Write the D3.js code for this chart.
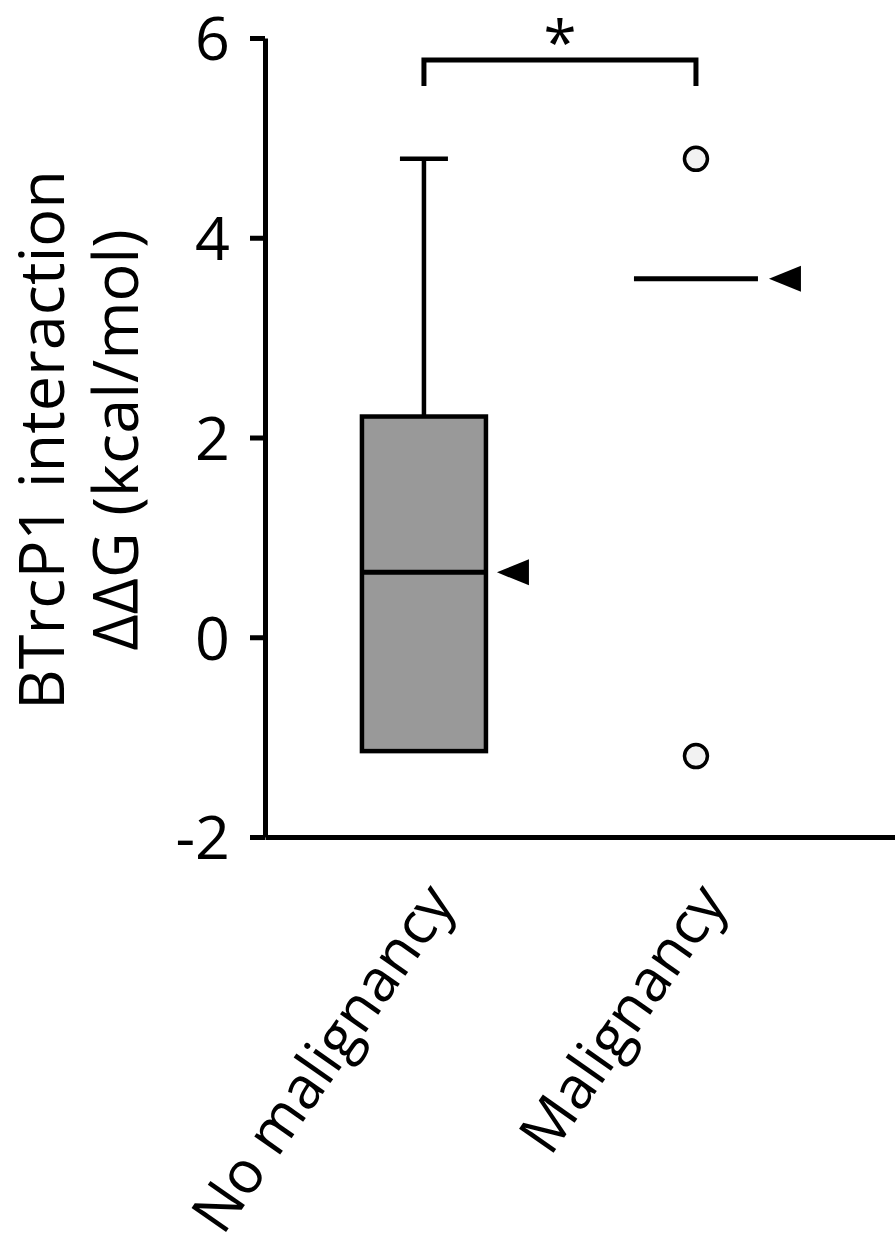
<!DOCTYPE html>
<html>
<head>
<meta charset="utf-8">
<script src="https://cdn.jsdelivr.net/npm/d3@7"></script>
<style>
  body { margin: 0; background: #fff; }
  text { font-family: "Open Sans", sans-serif; fill: #000; }
</style>
</head>
<body>
<script>
// values
const groups = ["No malignancy", "Malignancy"];
const q1 = [-1.14, null];
const q3 = [2.21, null];
const medians = [0.65, 3.59];
const whiskerHigh = [4.79, null];
const outliers = [[], [4.79, -1.19]];
const yTicks = [-2, 0, 2, 4, 6];
const yLabel = ["BTrcP1 interaction", "ΔΔG (kcal/mol)"];
const sigLabel = "*";
const bracketTop = 5.78;
const bracketLeg = 5.52;

let width = 895;
let height = 1245;
let plotLeft = 265;
let plotTop = 38;
let plotBottom = 837;

let y = d3.scaleLinear([-2, 6], [plotBottom, plotTop]);
let x = d3.scalePoint(groups, [plotLeft, width]).padding(0.658).align(0.444);
let boxW = 124;
let lw = 4.5;

let svg = d3.select("body")
  .append("svg")
  .attr("width", width)
  .attr("height", height);

// y axis
let yAxis = svg.append("g")
  .attr("transform", "translate(" + plotLeft + ",0)")
  .call(d3.axisLeft(y).tickValues(yTicks).tickSize(15).tickSizeOuter(0).tickPadding(20).tickFormat(d => String(d)));
yAxis.select(".domain").attr("stroke-width", 5);
yAxis.selectAll(".tick line").attr("stroke-width", 5);
yAxis.selectAll("text")
  .style("font-size", "61px")
  .attr("font-family", null)
  .attr("dy", "0.36em");

// x axis
let xAxis = svg.append("g")
  .attr("transform", "translate(0," + y(-2) + ")")
  .call(d3.axisBottom(x).tickSize(0).tickSizeOuter(0));
xAxis.select(".domain").attr("stroke-width", 5);
xAxis.selectAll("text")
  .style("font-size", "59px")
  .attr("font-family", null)
  .attr("text-anchor", "end")
  .attr("y", 0)
  .attr("dy", 0)
  .attr("transform", "translate(32,66) rotate(-55)");

// y label
svg.selectAll(".ylab")
  .data(yLabel)
  .enter()
  .append("text")
  .attr("class", "ylab")
  .attr("text-anchor", "middle")
  .style("font-size", "63px")
  .attr("transform", (d, i) => "translate(" + (64 + i * 74) + "," + 440 + ") rotate(-90)")
  .text(d => d);

let idx = groups.map((g, i) => i);

// whiskers
svg.selectAll(".whisker")
  .data(idx.filter(i => whiskerHigh[i] != null))
  .enter()
  .append("line")
  .attr("x1", i => x(groups[i]))
  .attr("x2", i => x(groups[i]))
  .attr("y1", i => y(whiskerHigh[i]))
  .attr("y2", i => y(q3[i]))
  .attr("stroke", "#000")
  .attr("stroke-width", lw);

svg.selectAll(".cap")
  .data(idx.filter(i => whiskerHigh[i] != null))
  .enter()
  .append("line")
  .attr("x1", i => x(groups[i]) - 24)
  .attr("x2", i => x(groups[i]) + 24)
  .attr("y1", i => y(whiskerHigh[i]))
  .attr("y2", i => y(whiskerHigh[i]))
  .attr("stroke", "#000")
  .attr("stroke-width", lw);

// boxes
svg.selectAll(".box")
  .data(idx.filter(i => q1[i] != null))
  .enter()
  .append("rect")
  .attr("x", i => x(groups[i]) - boxW / 2)
  .attr("y", i => y(q3[i]))
  .attr("width", boxW)
  .attr("height", i => y(q1[i]) - y(q3[i]))
  .attr("fill", "#999999")
  .attr("stroke", "#000")
  .attr("stroke-width", lw);

// medians
svg.selectAll(".median")
  .data(idx)
  .enter()
  .append("line")
  .attr("x1", i => x(groups[i]) - boxW / 2)
  .attr("x2", i => x(groups[i]) + boxW / 2)
  .attr("y1", i => y(medians[i]))
  .attr("y2", i => y(medians[i]))
  .attr("stroke", "#000")
  .attr("stroke-width", 5);

// median markers
svg.selectAll(".arrow")
  .data(idx)
  .enter()
  .append("path")
  .attr("d", i => {
    let tx = x(groups[i]) + 73, ty = y(medians[i]);
    return "M" + tx + "," + ty + "L" + (tx + 32) + "," + (ty - 13) + "L" + (tx + 32) + "," + (ty + 13) + "Z";
  })
  .attr("fill", "#000");

// outliers
let pts = [];
outliers.forEach((arr, i) => arr.forEach(v => pts.push([groups[i], v])));
svg.selectAll(".outlier")
  .data(pts)
  .enter()
  .append("circle")
  .attr("cx", d => x(d[0]))
  .attr("cy", d => y(d[1]))
  .attr("r", 11.5)
  .attr("fill", "#f2f2f2")
  .attr("stroke", "#000")
  .attr("stroke-width", 3.5);

// significance bracket
let bx1 = x(groups[0]), bx2 = x(groups[1]);
svg.append("path")
  .attr("d", "M" + bx1 + "," + y(bracketLeg) + "V" + y(bracketTop) + "H" + bx2 + "V" + y(bracketLeg))
  .attr("fill", "none")
  .attr("stroke", "#000")
  .attr("stroke-width", 5);

svg.append("text")
  .attr("x", (bx1 + bx2) / 2)
  .attr("y", 64)
  .attr("text-anchor", "middle")
  .style("font-size", "60px")
  .text(sigLabel);
</script>
</body>
</html>
